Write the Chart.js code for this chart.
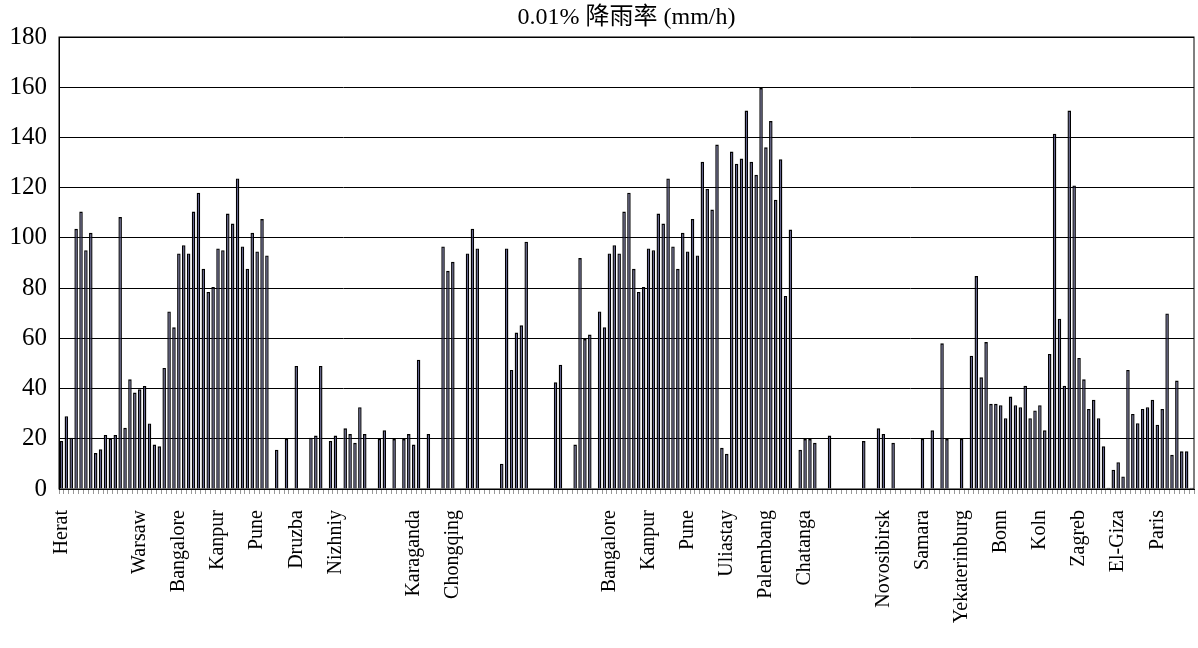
<!DOCTYPE html>
<html>
<head>
<meta charset="utf-8">
<script src="https://cdn.jsdelivr.net/npm/chart.js@4"></script>
<style>
  body { margin: 0; background: #fff; }
  #wrap { width: 1198px; height: 648px; position: relative; }
</style>
</head>
<body>
<div id="wrap"><canvas id="rainChart"></canvas></div>
<script>
// station names shown on every 8th category ('' = unnamed slot)
const tickNames = ['Herat', '', 'Warsaw', 'Bangalore', 'Kanpur', 'Pune', 'Druzba', 'Nizhniy', '',
  'Karaganda', 'Chongqing', '', '', '', 'Bangalore', 'Kanpur', 'Pune', 'Uliastay', 'Palembang',
  'Chatanga', '', 'Novosibirsk', 'Samara', 'Yekaterinburg', 'Bonn', 'Koln', 'Zagreb', 'El-Giza', 'Paris'];
const labelEvery = 8;

// 0.01% rain rate, mm/h (null = no value)
const rainRate = [
  19.1, 29, 20.4, 103.6, 110.5, 95.1, 102, 14.3, 15.8, 21.5,
  20.1, 21.5, 108.3, 24.4, 43.7, 38.4, 39.7, 41, 26.1, 17.7,
  17, 48.2, 70.7, 64.4, 93.8, 97.1, 93.8, 110.5, 118, 87.7,
  78.5, 80.4, 95.8, 95.1, 109.7, 105.7, 123.7, 96.6, 87.7, 102,
  94.6, 107.5, 93, null, 15.6, null, 19.9, null, 49, null,
  null, 20.4, 21.3, 49, null, 19.1, 21.3, null, 24.2, 21.9,
  18.4, 32.6, 21.9, null, null, 19.9, 23.4, null, 19.9, null,
  19.9, 21.9, 17.7, 51.5, null, 21.9, null, null, 96.6, 86.9,
  90.5, null, null, 93.8, 103.6, 95.8, null, null, null, null,
  10.1, 95.8, 47.4, 62.3, 65.2, 98.5, null, null, null, null,
  null, 42.5, 49.5, null, null, 17.7, 92, 59.7, 61.5, null,
  70.7, 64.4, 93.8, 97.1, 93.8, 110.5, 118, 87.7, 78.5, 80.4,
  95.8, 95.1, 109.7, 105.7, 123.7, 96.6, 87.7, 102, 94.6, 107.5,
  93, 130.3, 119.5, 111.3, 137.2, 16.4, 14, 134.4, 129.5, 131.6,
  150.7, 130.3, 125.1, 159.7, 136.1, 146.5, 115.2, 131.3, 76.9, 103.3,
  null, 15.6, 19.9, 19.9, 18.4, null, null, 21.3, null, null,
  null, null, null, null, 19.1, null, null, 24.2, 21.9, null,
  18.4, null, null, null, null, null, 19.9, null, 23.4, null,
  58, 19.9, null, null, 19.9, null, 53.1, 84.8, 44.5, 58.5,
  33.9, 33.9, 33.4, 28.2, 36.8, 33.4, 32.6, 41.1, 28.2, 31.3,
  33.4, 23.4, 53.8, 141.5, 67.8, 41.1, 150.7, 120.9, 52.2, 43.7,
  31.9, 35.5, 28.2, 17, 0.5, 7.7, 10.7, 5, 47.4, 29.9,
  26.2, 31.9, 32.6, 35.5, 25.6, 31.9, 69.9, 13.6, 43.2, 15,
  15, 0.5
];

const categories = rainRate.map((v, i) => (i % labelEvery === 0 ? tickNames[i / labelEvery] : ''));

const serif = "'Liberation Serif', 'Times New Roman', 'Noto Sans CJK SC', serif";

// title centred over the plot, plus the box round the plot area
const frame = {
  id: 'frame',
  afterDraw(chart) {
    const { ctx, chartArea: a } = chart;
    ctx.save();
    ctx.strokeStyle = '#000';
    ctx.lineWidth = 1;
    ctx.strokeRect(a.left, a.top, a.right - a.left, a.bottom - a.top);
    ctx.fillStyle = '#000';
    ctx.font = "24px " + serif;
    ctx.textAlign = 'center';
    ctx.textBaseline = 'middle';
    ctx.fillText('0.01% 降雨率 (mm/h)', (a.left + a.right) / 2, 18);
    ctx.restore();
  }
};

new Chart(document.getElementById('rainChart'), {
  type: 'bar',
  data: {
    labels: categories,
    datasets: [{
      data: rainRate,
      backgroundColor: '#40407a',
      borderColor: '#000',
      borderWidth: 1.4,
      barPercentage: 0.72,
      categoryPercentage: 1
    }]
  },
  options: {
    responsive: true,
    maintainAspectRatio: false,
    animation: false,
    layout: { padding: { top: 37, right: 4, left: 0, bottom: 0 } },
    plugins: {
      legend: { display: false },
      tooltip: { enabled: false },
      title: { display: false }
    },
    scales: {
      x: {
        afterFit(scale) {
          scale.height = 159;
          scale.paddingLeft = 0;
          scale.paddingRight = 0;
        },
        grid: { display: true, drawOnChartArea: false, drawTicks: true, tickLength: 5, color: '#999' },
        border: { display: true, color: '#000' },
        ticks: {
          autoSkip: false,
          minRotation: 90,
          maxRotation: 90,
          padding: 16,
          color: '#000',
          font: { family: serif, size: 20 },
          callback: (v, i) => categories[i]
        }
      },
      y: {
        min: 0,
        max: 180,
        afterFit(scale) { scale.width = 59; },
        grid: { color: '#000', lineWidth: 1, drawTicks: false },
        border: { display: true, color: '#000' },
        ticks: {
          stepSize: 20,
          padding: 12,
          color: '#000',
          font: { family: serif, size: 25 }
        }
      }
    }
  },
  plugins: [frame]
});
</script>
</body>
</html>
